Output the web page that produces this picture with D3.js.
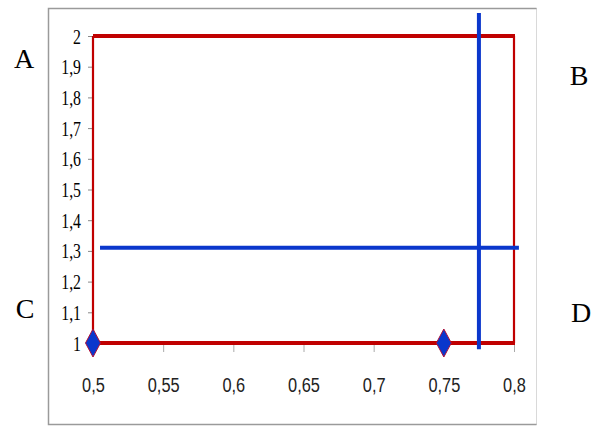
<!DOCTYPE html>
<html>
<head>
<meta charset="utf-8">
<script src="https://cdn.jsdelivr.net/npm/d3@7"></script>
<style>
body { margin: 0; background: #fff; }
</style>
</head>
<body>
<svg width="597" height="426"></svg>
<script>
// values
var xTicks = [0.5, 0.55, 0.6, 0.65, 0.7, 0.75, 0.8]
var yTicks = [1, 1.1, 1.2, 1.3, 1.4, 1.5, 1.6, 1.7, 1.8, 1.9, 2]
var boxX = [0.5, 0.8]
var boxY = [1, 2]
var diamondX = [0.5, 0.75]
var diamondY = [1, 1]
var vLineX = [0.775, 0.775]
var vLineY = [2.075, 0.98]
var hLineX = [0.505, 0.8035]
var hLineY = [1.31, 1.31]
var cornerNames = ['A', 'B', 'C', 'D']

var svg = d3.select('svg')
var fmt = function(d){ return String(+d.toFixed(2)).replace('.', ',') }

var x = d3.scaleLinear().domain([0.5, 0.8]).range([93, 514])
var y = d3.scaleLinear().domain([1, 2]).range([343, 36])

// outer frame
svg.append('rect')
    .attr('x', 48.5).attr('y', 8.5)
    .attr('width', 488).attr('height', 416)
    .attr('fill', 'none')
    .attr('stroke', '#d9d9d9')
svg.append('path')
    .attr('d', 'M536.5,8.5 H48.5 V424.5 H536.5')
    .attr('fill', 'none')
    .attr('stroke', '#9a9a9a')
    .attr('stroke-width', 1.5)

// y axis
var yAxis = svg.append('g')
    .attr('transform', 'translate(93,0)')
    .call(d3.axisLeft(y).tickValues(yTicks).tickSize(5).tickPadding(7).tickFormat(fmt))
yAxis.select('.domain').remove()
yAxis.selectAll('line').attr('stroke', '#888')
yAxis.selectAll('text')
    .attr('font-family', 'Liberation Serif, serif')
    .attr('font-size', 22)
    .attr('fill', '#000')
    .each(function(){
        var t = d3.select(this)
        var tx = +t.attr('x')
        t.attr('transform', 'scale(0.72,1)').attr('x', tx / 0.72)
    })

// x axis
var xAxis = svg.append('g')
    .attr('transform', 'translate(0,343)')
    .call(d3.axisBottom(x).tickValues(xTicks).tickSize(9).tickPadding(25).tickFormat(fmt))
xAxis.select('.domain').remove()
xAxis.selectAll('line').attr('stroke', '#aaa')
xAxis.selectAll('text')
    .attr('font-family', 'Liberation Sans, sans-serif')
    .attr('font-size', 21)
    .attr('fill', '#222')
    .attr('transform', 'scale(0.78,1)')

// red box
svg.append('line')
    .attr('x1', x(boxX[0])).attr('x2', x(boxX[0]))
    .attr('y1', y(boxY[1])).attr('y2', y(boxY[0]))
    .attr('stroke', '#c00000').attr('stroke-width', 2.2)
svg.append('line')
    .attr('x1', x(boxX[1])).attr('x2', x(boxX[1]))
    .attr('y1', y(boxY[1])).attr('y2', y(boxY[0]))
    .attr('stroke', '#c00000').attr('stroke-width', 2.2)
svg.append('line')
    .attr('x1', x(boxX[0])).attr('x2', x(boxX[1]) + 1)
    .attr('y1', y(boxY[1])).attr('y2', y(boxY[1]))
    .attr('stroke', '#c00000').attr('stroke-width', 3.8)
svg.append('line')
    .attr('x1', x(boxX[0])).attr('x2', x(boxX[1]) + 1)
    .attr('y1', y(boxY[0])).attr('y2', y(boxY[0]))
    .attr('stroke', '#c00000').attr('stroke-width', 3.8)

// blue lines
var line = d3.line().x(function(d){ return x(d[0]) }).y(function(d){ return y(d[1]) })
svg.append('path')
    .attr('d', line(d3.zip(vLineX, vLineY)))
    .attr('stroke', '#0a37cc').attr('stroke-width', 4).attr('fill', 'none')
svg.append('path')
    .attr('d', line(d3.zip(hLineX, hLineY)))
    .attr('stroke', '#0a37cc').attr('stroke-width', 4).attr('fill', 'none')

// diamonds
svg.selectAll('.dia')
    .data(d3.zip(diamondX, diamondY))
    .enter().append('path')
    .attr('class', 'dia')
    .attr('d', 'M0,-14 L7.5,0 L0,14 L-7.5,0 Z')
    .attr('transform', function(d){ return 'translate(' + x(d[0]) + ',' + y(d[1]) + ')' })
    .attr('fill', '#0a37cc')
    .attr('stroke', '#b0103a').attr('stroke-width', 1)

// corner letters
var letterPos = [[24, 68], [579, 85], [25, 318], [581, 322]]
svg.selectAll('.corner')
    .data(cornerNames)
    .enter().append('text')
    .attr('class', 'corner')
    .attr('x', function(d, i){ return letterPos[i][0] })
    .attr('y', function(d, i){ return letterPos[i][1] })
    .attr('text-anchor', 'middle')
    .attr('font-family', 'Liberation Serif, serif')
    .attr('font-size', 28)
    .attr('fill', '#000')
    .text(function(d){ return d })
</script>
</body>
</html>
